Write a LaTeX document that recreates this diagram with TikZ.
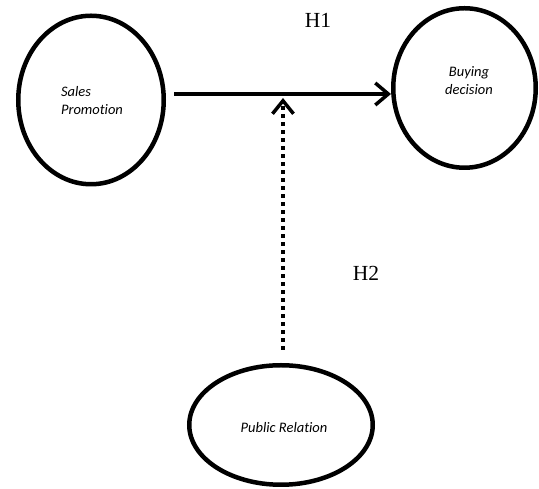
\documentclass[tikz,border=0pt]{standalone}
\usepackage{fontspec}
\setmainfont{Liberation Serif}
\newfontfamily\lblfont[Ligatures=NoCommon]{Carlito}
\usetikzlibrary{shapes.geometric,arrows.meta}
\begin{document}
\begin{tikzpicture}[x=1pt,y=1pt,
  circ/.style={draw,ellipse,line width=4.5pt,inner sep=0pt},
  lbl/.style={font=\lblfont\itshape\fontsize{14.5}{18}\selectfont,align=center,inner sep=0pt},
  hyp/.style={font=\fontsize{21.5}{24}\selectfont,inner sep=0pt},
  arr/.style={line width=3.5pt,-{Straight Barb[length=13pt,width=22pt,line width=3.5pt]}},
  dotarr/.style={line width=3.5pt,dash pattern=on 3.5pt off 4.5pt,-{Straight Barb[length=13pt,width=21pt,line width=3.5pt]}}]
\useasboundingbox (0,0) rectangle (539,489);
\node[circ,minimum width=145.5pt,minimum height=168.5pt] (sp) at (91,389) {};
\node[lbl,align=left] (spt) at (92,388) {Sales\\Promotion};
\node[circ,minimum width=142.5pt,minimum height=159.5pt] (bd) at (464.5,401) {};
\node[lbl] (bdt) at (469,408) {Buying\\decision};
\node[circ,minimum width=183.5pt,minimum height=119.5pt] (pr) at (281,64) {};
\node[lbl] (prt) at (284,61) {Public Relation};
\node[hyp] (h1) at (318,469) {H1};
\node[hyp] (h2) at (366,216) {H2};
\coordinate (s) at ([xshift=8pt,yshift=6pt]sp.east);
\coordinate (e) at (bd.west |- s);
\draw[arr] (s) -- (e);
\coordinate (ds) at ([xshift=2pt,yshift=13pt]pr.north);
\coordinate (de) at ([yshift=-4pt]ds |- s);
\draw[dotarr] (ds) -- (de);
\end{tikzpicture}
\end{document}
